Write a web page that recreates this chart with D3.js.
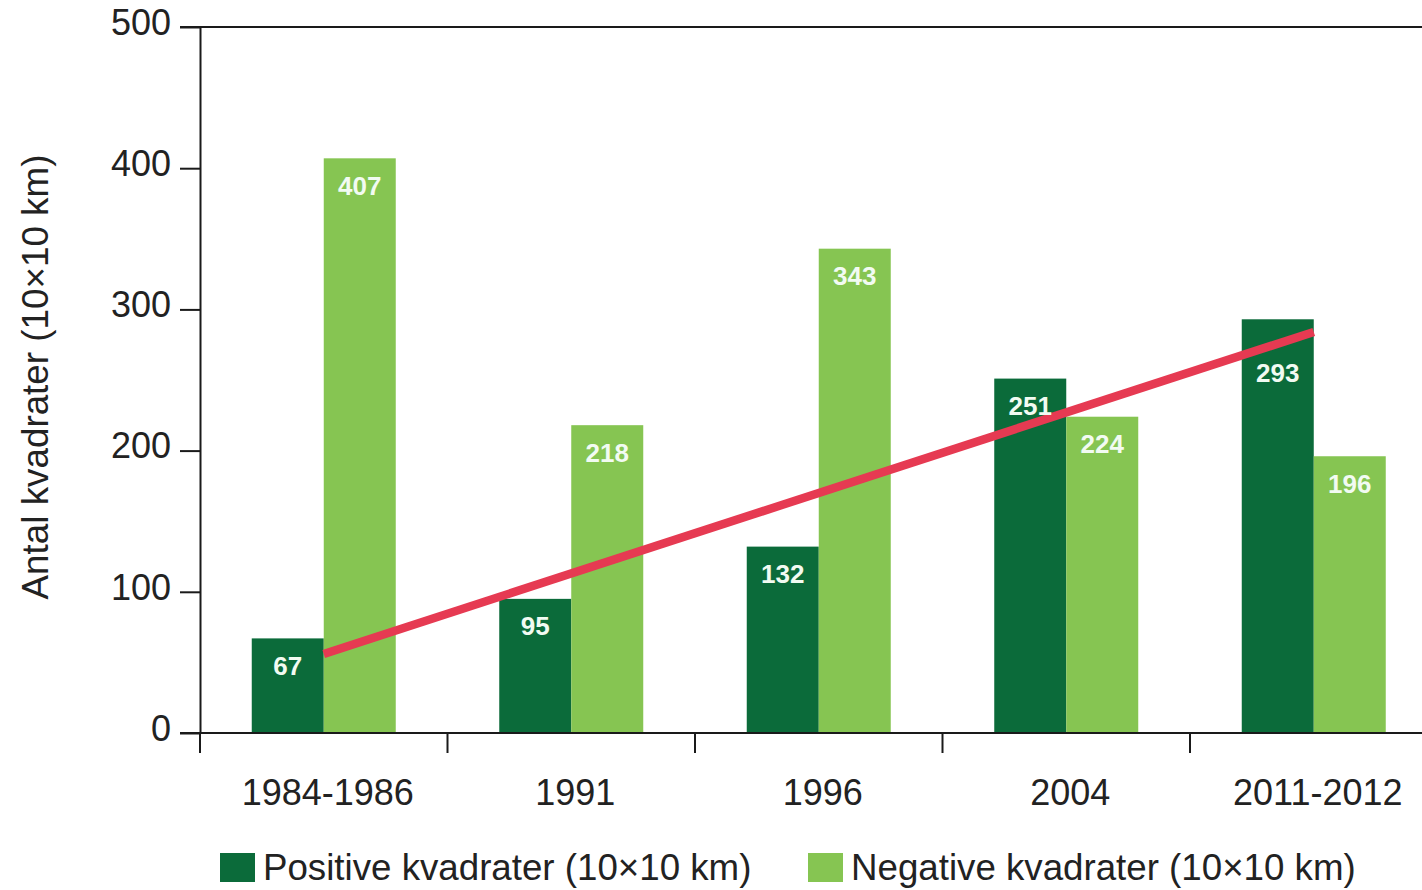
<!DOCTYPE html>
<html>
<head>
<meta charset="utf-8">
<script src="https://cdn.jsdelivr.net/npm/d3@7"></script>
<style>
  html, body { margin: 0; padding: 0; background: #fff; }
  svg { display: block; font-family: "Liberation Sans", Arial, sans-serif; }
</style>
</head>
<body>
<svg id="chart" width="1422" height="890"></svg>
<script>
const categories = ["1984-1986", "1991", "1996", "2004", "2011-2012"];
const positive = [67, 95, 132, 251, 293];
const negative = [407, 218, 343, 224, 196];
const trendValues = [56, 284]; // trend line value at first and last category
const yTicks = [0, 100, 200, 300, 400, 500];
const seriesKeys = ["pos", "neg"];
const seriesNames = ["Positive kvadrater (10×10 km)", "Negative kvadrater (10×10 km)"];
const yTitle = "Antal kvadrater (10×10 km)";

const colors = { pos: "#0b6b3a", neg: "#86c552" };
const axisColor = "#1a1a1a";
const textColor = "#222";

const svg = d3.select("#chart");

const x0 = 200, x1 = 1437.5, yBottom = 733, yTop = 27;

const x = d3.scaleBand().domain(categories).range([x0, x1]).paddingInner(0).paddingOuter(0);
const xs = d3.scaleBand().domain(seriesKeys).range([0, x.bandwidth()]).paddingInner(0).paddingOuter(0.71875);
const y = d3.scaleLinear().domain([0, 500]).range([yBottom, yTop]);

const rows = categories.map((c, i) => ({ cat: c, pos: positive[i], neg: negative[i] }));

// Bars
const groups = svg.append("g").selectAll("g").data(rows).join("g")
  .attr("transform", d => `translate(${x(d.cat)},0)`);

groups.selectAll("rect").data(d => seriesKeys.map(k => ({ key: k, value: d[k] })))
  .join("rect")
  .attr("x", d => xs(d.key))
  .attr("width", xs.bandwidth())
  .attr("y", d => y(d.value))
  .attr("height", d => y(0) - y(d.value))
  .attr("fill", d => colors[d.key]);

// Trend line
const tx0 = x(categories[0]) + x.bandwidth() / 2;
const tx1 = x(categories[categories.length - 1]) + x.bandwidth() / 2;
const ty0 = y(trendValues[0]), ty1 = y(trendValues[1]);
function trendY(px) {
  if (px < tx0 || px > tx1) return null;
  return ty0 + (ty1 - ty0) * (px - tx0) / (tx1 - tx0);
}

// Axes
const yAxis = d3.axisLeft(y).tickValues(yTicks).tickSize(20).tickSizeOuter(0).tickPadding(9);
const gy = svg.append("g").attr("transform", `translate(${x0},0)`).call(yAxis);
gy.select(".domain").attr("stroke", axisColor).attr("stroke-width", 2);
gy.selectAll(".tick line").attr("stroke", axisColor).attr("stroke-width", 2);
gy.selectAll(".tick text").attr("font-size", 36).attr("fill", textColor)
  .attr("font-family", "Liberation Sans, Arial, sans-serif").attr("dy", "0.2em");

// top frame line
svg.append("line").attr("x1", 180).attr("x2", 1422).attr("y1", y(500)).attr("y2", y(500))
  .attr("stroke", axisColor).attr("stroke-width", 2);

// x axis line
svg.append("line").attr("x1", 180).attr("x2", 1422).attr("y1", y(0)).attr("y2", y(0))
  .attr("stroke", axisColor).attr("stroke-width", 2);

// x boundary ticks
svg.append("g").selectAll("line").data(categories).join("line")
  .attr("x1", d => x(d)).attr("x2", d => x(d))
  .attr("y1", y(0)).attr("y2", y(0) + 20)
  .attr("stroke", axisColor).attr("stroke-width", 2);

// x labels
const xAxis = d3.axisBottom(x).tickSize(0).tickPadding(0);
const gx = svg.append("g").attr("transform", `translate(4,${y(0)})`).call(xAxis);
gx.select(".domain").remove();
gx.selectAll(".tick text").attr("font-size", 36).attr("fill", textColor)
  .attr("font-family", "Liberation Sans, Arial, sans-serif")
  .attr("dy", null).attr("y", 72);

// trend line drawn over bars
svg.append("line")
  .attr("x1", tx0).attr("y1", ty0).attr("x2", tx1).attr("y2", ty1)
  .attr("stroke", "#e63a52").attr("stroke-width", 8.5).attr("stroke-linecap", "butt");

// value labels
const labelData = [];
rows.forEach(d => {
  seriesKeys.forEach(k => {
    const cx = x(d.cat) + xs(k) + xs.bandwidth() / 2;
    let cy = y(d[k]) + 27;
    const ly = trendY(cx);
    if (ly !== null && Math.abs(cy - ly) < 14) cy = ly + 29;
    labelData.push({ v: d[k], cx, cy });
  });
});
svg.append("g").selectAll("text").data(labelData).join("text")
  .attr("x", d => d.cx).attr("y", d => d.cy)
  .attr("dy", "0.36em")
  .attr("text-anchor", "middle")
  .attr("font-size", 26).attr("font-weight", "bold")
  .attr("fill", "#f2fbf2")
  .text(d => d.v);

// y title
svg.append("text")
  .attr("transform", `translate(48,377) rotate(-90)`)
  .attr("text-anchor", "middle")
  .attr("font-size", 36.8).attr("fill", textColor)
  .text(yTitle);

// legend
const legendX = [220, 808];
const lg = svg.append("g").selectAll("g").data(seriesKeys).join("g")
  .attr("transform", (d, i) => `translate(${legendX[i]},853)`);
lg.append("rect").attr("width", 35).attr("height", 29).attr("fill", d => colors[d]);
lg.append("text").attr("x", 43).attr("y", 27).attr("font-size", 36.7).attr("fill", textColor)
  .text((d, i) => seriesNames[i]);
</script>
</body>
</html>
